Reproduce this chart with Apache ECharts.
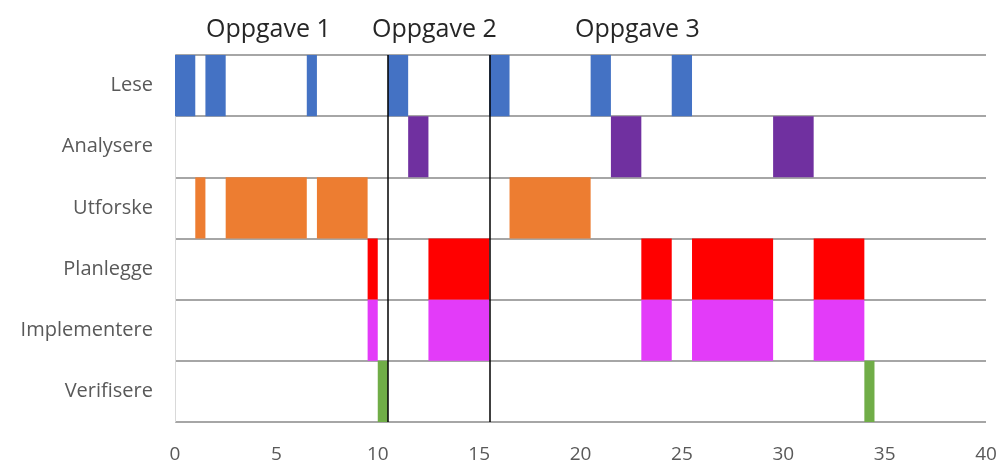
<!DOCTYPE html>
<html>
<head>
<meta charset="utf-8">
<script src="https://cdn.jsdelivr.net/npm/echarts@6/dist/echarts.min.js"></script>
<style>
  html, body { margin: 0; padding: 0; background: #fff; }
  #chart { width: 1000px; height: 464px; }
</style>
</head>
<body>
<div id="chart"></div>
<script>
const categories = ["Lese", "Analysere", "Utforske", "Planlegge", "Implementere", "Verifisere"];
const colors = ["#4472C4", "#7030A0", "#ED7D31", "#FF0000", "#E33BF9", "#70AD47"];

// [start, end] per activity
const lese = [[0, 1], [1.5, 2.5], [6.5, 7], [10.5, 11.5], [15.5, 16.5], [20.5, 21.5], [24.5, 25.5]];
const analysere = [[11.5, 12.5], [21.5, 23], [29.5, 31.5]];
const utforske = [[1, 1.5], [2.5, 6.5], [7, 9.5], [16.5, 20.5]];
const planlegge = [[9.5, 10], [12.5, 15.5], [23, 24.5], [25.5, 29.5], [31.5, 34]];
const implementere = [[9.5, 10], [12.5, 15.5], [23, 24.5], [25.5, 29.5], [31.5, 34]];
const verifisere = [[10, 10.5], [34, 34.5]];

const taskMarkers = [10.5, 15.5];
const taskLabels = ["Oppgave 1", "Oppgave 2", "Oppgave 3"];
const xTicks = [0, 5, 10, 15, 20, 25, 30, 35, 40];

const rows = [lese, analysere, utforske, planlegge, implementere, verifisere];
const data = [];
rows.forEach(function (row, i) {
  row.forEach(function (seg) {
    data.push({ value: [i, seg[0], seg[1]], itemStyle: { color: colors[i] } });
  });
});

function renderItem(params, api) {
  const cat = api.value(0);
  const start = api.coord([api.value(1), cat]);
  const end = api.coord([api.value(2), cat]);
  const h = api.size([0, 1])[1];
  return {
    type: "rect",
    shape: { x: start[0], y: start[1] - h / 2, width: end[0] - start[0], height: h },
    style: api.style(),
  };
}

const chart = echarts.init(document.getElementById("chart"));

option = {
  animation: false,
  grid: { left: 175, right: 14, top: 55, bottom: 40 },
  xAxis: {
    type: "value",
    min: 0,
    max: 40,
    interval: 5,
    axisLine: { show: false },
    axisTick: { show: false },
    splitLine: { show: false },
    axisLabel: {
      color: "#595959",
      fontFamily: "Open Sans",
      fontSize: 19,
      margin: 23,
      customValues: xTicks,
    },
  },
  yAxis: {
    type: "category",
    data: categories,
    inverse: true,
    axisLine: { show: true, lineStyle: { color: "#d9d9d9", width: 1 } },
    axisTick: { show: false },
    splitLine: { show: true, lineStyle: { color: "#a6a6a6", width: 2 } },
    axisLabel: {
      color: "#595959",
      fontFamily: "Open Sans",
      fontSize: 20,
      margin: 22,
    },
  },
  graphic: [
    { type: "text", left: 206, top: 17, style: { text: taskLabels[0], fill: "#262626", font: "25px 'Open Sans'" } },
    { type: "text", left: 372, top: 17, style: { text: taskLabels[1], fill: "#262626", font: "25px 'Open Sans'" } },
    { type: "text", left: 575, top: 17, style: { text: taskLabels[2], fill: "#262626", font: "25px 'Open Sans'" } },
  ],
  series: [
    {
      type: "custom",
      renderItem: renderItem,
      encode: { x: [1, 2], y: 0 },
      data: data,
      silent: true,
      markLine: {
        silent: true,
        symbol: "none",
        label: { show: false },
        lineStyle: { color: "#000", width: 1.5, type: "solid" },
        data: taskMarkers.map(function (v) { return { xAxis: v }; }),
      },
    },
  ],
};

chart.setOption(option);
</script>
</body>
</html>
